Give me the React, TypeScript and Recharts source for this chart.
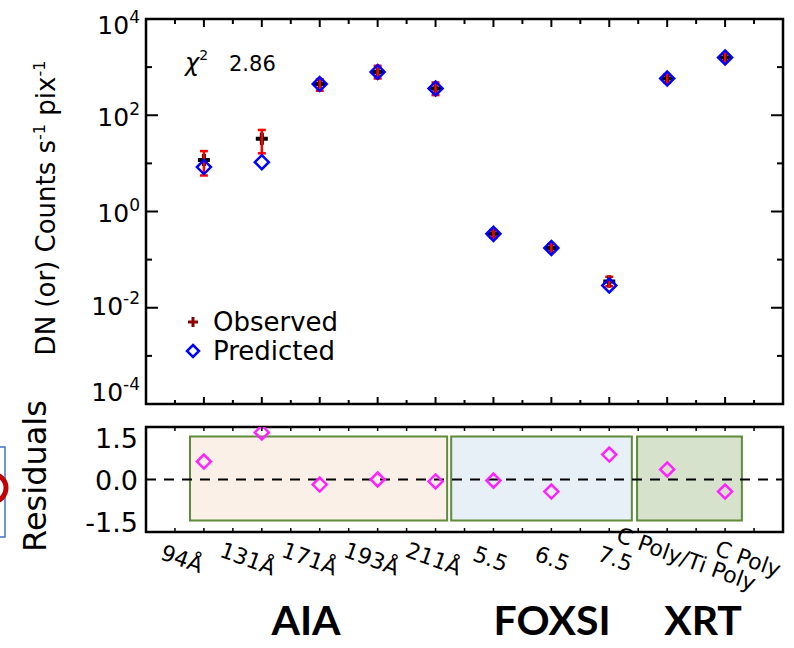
import React from 'react';
import { ScatterChart, Scatter, XAxis, YAxis, ErrorBar, ReferenceArea, ReferenceLine, Legend } from 'recharts';

// ---------- data ----------
const categories = ['94Å', '131Å', '171Å', '193Å', '211Å', '5.5', '6.5', '7.5', 'C Poly/Ti Poly', 'C Poly'];
const observed = [11.7, 32.5, 444, 795, 361, 0.343, 0.175, 0.035, 580, 1590];
const errLow = [6.1, 16.3, 121, 215, 99, 0.06, 0.03, 0.007, 100, 250];
const errHigh = [6.3, 17, 118, 272, 119, 0.07, 0.035, 0.009, 110, 280];
const predicted = [8.4, 10.6, 444, 795, 361, 0.343, 0.175, 0.029, 580, 1590];
const residuals = [0.64, 1.68, -0.18, 0.0, -0.07, -0.04, -0.43, 0.89, 0.36, -0.43];
const groupNames = ['AIA', 'FOXSI', 'XRT'];
const groupStart = [0.76, 5.27, 8.48];
const groupEnd = [5.2, 8.39, 10.29];
const groupLow = [-1.46, -1.46, -1.46];
const groupHigh = [1.54, 1.54, 1.54];
const chiSquare = 2.86;
const yTickExponents = [-4, -3, -2, -1, 0, 1, 2, 3, 4];
const residualTicks = [-1.5, 0, 1.5];

// ---------- layout / style ----------
const FONT = 'DejaVu Sans, Liberation Sans, Arial, sans-serif';
const PLOT_W = 637;
const TOP_H = 384;
const RES_H = 105;
const LABEL_DX = [-22, -14, -10, -6, -2, -3, 1, 6, 19, 23];
const EXP_DY: Record<number, number> = { 4: 6, 2: 2, 0: 1, [-2]: -2, [-4]: -12 };
const groupFills = ['#FAF0E8', '#E7EFF7', '#D6E2CC'];
const groupLabelX = [306, 552, 703];

const xTicks = Array.from({ length: 21 }, (_, k) => 0.5 + k * 0.5);
const yTicks = yTickExponents.map((e) => Math.pow(10, e));

const obsRows = categories.map((c, i) => ({ x: i + 1, y: observed[i], err: [errLow[i], errHigh[i]], name: c }));
const predRows = categories.map((c, i) => ({ x: i + 1, y: predicted[i], name: c }));
const resRows = categories.map((c, i) => ({ x: i + 1, y: residuals[i], name: c }));

const Cross = (p: any) => {
  const { cx, cy } = p;
  if (cx == null || cy == null) return <g />;
  return (
    <g>
      <path d={`M${cx - 6},${cy} H${cx + 6} M${cx},${cy - 6} V${cy + 6}`} stroke="#000" strokeWidth={4} fill="none" />
      <path d={`M${cx},${cy - 6} V${cy + 6}`} stroke="#FF0000" strokeWidth={2.5} fill="none" />
    </g>
  );
};
const Empty = () => <g />;
const makeDiamond = (color: string, r: number) => (p: any) => {
  const { cx, cy } = p;
  if (cx == null || cy == null) return <g />;
  return (
    <path
      d={`M${cx},${cy - r} L${cx + r},${cy} L${cx},${cy + r} L${cx - r},${cy} Z`}
      fill="none"
      stroke={color}
      strokeWidth={2.5}
    />
  );
};
const BlueDiamond = makeDiamond('#0000FF', 7);
const PinkDiamond = makeDiamond('#FF22FF', 7);

const LogYTick = (p: any) => {
  const { x, y, payload } = p;
  const e = Math.round(Math.log10(payload.value));
  const major = e % 2 === 0;
  const len = major ? 12 : 6;
  return (
    <g>
      <line x1={x} y1={y} x2={x + len} y2={y} stroke="#000" strokeWidth={2} />
      <line x1={x + PLOT_W} y1={y} x2={x + PLOT_W - len} y2={y} stroke="#000" strokeWidth={2} />
      {major && (
        <text x={x - 6} y={y + 9 + (EXP_DY[e] || 0)} textAnchor="end" fontFamily={FONT} fontSize={25} fill="#000">
          10
          <tspan dy={-11} fontSize={17}>{String(e)}</tspan>
        </text>
      )}
    </g>
  );
};

const TopXTick = (p: any) => {
  const { x, y, payload } = p;
  const major = Number.isInteger(payload.value);
  const len = major ? 7 : 4;
  return (
    <g>
      <line x1={x} y1={y} x2={x} y2={y - len} stroke="#000" strokeWidth={2} />
      <line x1={x} y1={y - TOP_H} x2={x} y2={y - TOP_H + len} stroke="#000" strokeWidth={2} />
    </g>
  );
};

const CatTick = (p: any) => {
  const { x, y, payload } = p;
  const v = payload.value;
  const isCat = Number.isInteger(v) && v >= 1 && v <= categories.length;
  return (
    <g>
      <line x1={x} y1={y} x2={x} y2={y - 4} stroke="#000" strokeWidth={1.5} />
      <line x1={x} y1={y - RES_H} x2={x} y2={y - RES_H + 4} stroke="#000" strokeWidth={1.5} />
      {isCat && (
        <text
          transform={`translate(${x + LABEL_DX[v - 1]},${y + 27}) rotate(20)`}
          textAnchor="middle"
          dominantBaseline="central"
          fontFamily={FONT}
          fontSize={22}
          fill="#000"
        >
          {categories[v - 1]}
        </text>
      )}
    </g>
  );
};

const ResYTick = (p: any) => {
  const { x, y, payload } = p;
  return (
    <text x={x - 8} y={y + 10} textAnchor="end" fontFamily={FONT} fontSize={27} fill="#000">
      {Number(payload.value).toFixed(1)}
    </text>
  );
};

const LegendContent = (props: any) => {
  const items = (props.payload || []).filter((it: any) => it.value === 'Observed' || it.value === 'Predicted');
  return (
    <div style={{ fontFamily: FONT, fontSize: 26, color: '#000' }}>
      {items.map((it: any) => (
        <div key={it.value} style={{ display: 'flex', alignItems: 'center', height: 29 }}>
          <svg width={20} height={20} style={{ marginRight: 10 }}>
            {it.value === 'Observed' ? (
              <path d="M5,10 H15 M10,5 V15" stroke="#8B0000" strokeWidth={3} fill="none" />
            ) : (
              <path d="M10,4 L16,10 L10,16 L4,10 Z" stroke="#0000FF" strokeWidth={2.5} fill="none" />
            )}
          </svg>
          <span>{it.value}</span>
        </div>
      ))}
    </div>
  );
};

export default function App() {
  return (
    <div style={{ position: 'absolute', left: 0, top: 0, width: 794, height: 648, background: '#fff', overflow: 'hidden' }}>
      <div style={{ position: 'absolute', left: 0, top: 0 }}>
        <ScatterChart width={794} height={410} margin={{ top: 19, right: 11, bottom: 5, left: 145 }}>
          <XAxis
            type="number"
            dataKey="x"
            domain={[0, 11]}
            ticks={xTicks}
            interval={0}
            allowDataOverflow
            tickLine={false}
            axisLine={false}
            tickSize={0}
            tickMargin={0}
            height={1}
            tick={(p: any) => <TopXTick {...p} />}
          />
          <YAxis
            type="number"
            dataKey="y"
            scale="log"
            domain={[1e-4, 1e4]}
            ticks={yTicks}
            interval={0}
            allowDataOverflow
            tickLine={false}
            axisLine={false}
            tickSize={0}
            tickMargin={0}
            width={1}
            tick={(p: any) => <LogYTick {...p} />}
          />
          <ReferenceArea x1={0} x2={11} y1={1e-4} y2={1e4} fill="none" stroke="#000" strokeWidth={2.5} ifOverflow="visible" />
          <Scatter name="err" data={obsRows} shape={Empty} legendType="none" isAnimationActive={false}>
            <ErrorBar dataKey="err" direction="y" stroke="#FF0000" strokeWidth={2.5} width={4} isAnimationActive={false} />
          </Scatter>
          <Scatter name="Observed" data={obsRows} shape={Cross} isAnimationActive={false} />
          <Scatter name="Predicted" data={predRows} shape={BlueDiamond} isAnimationActive={false} />
          <Legend
            layout="vertical"
            align="center"
            verticalAlign="middle"
            wrapperStyle={{ position: 'absolute', left: 183, top: 307, width: 200, height: 60 }}
            content={LegendContent}
          />
        </ScatterChart>
      </div>

      <div style={{ position: 'absolute', left: 0, top: 410 }}>
        <ScatterChart width={794} height={238} margin={{ top: 17, right: 11, bottom: 115, left: 145 }}>
          <XAxis
            type="number"
            dataKey="x"
            domain={[0, 11]}
            ticks={xTicks}
            interval={0}
            allowDataOverflow
            tickLine={false}
            axisLine={false}
            tickSize={0}
            tickMargin={0}
            height={1}
            tick={(p: any) => <CatTick {...p} />}
          />
          <YAxis
            type="number"
            dataKey="y"
            domain={[-1.875, 1.875]}
            ticks={residualTicks}
            interval={0}
            allowDataOverflow
            tickLine={false}
            axisLine={false}
            tickSize={0}
            tickMargin={0}
            width={1}
            tick={(p: any) => <ResYTick {...p} />}
          />
          {groupNames.map((g, i) => (
            <ReferenceArea
              key={g}
              x1={groupStart[i]}
              x2={groupEnd[i]}
              y1={groupLow[i]}
              y2={groupHigh[i]}
              fill={groupFills[i]}
              fillOpacity={1}
              stroke="#5E8C3A"
              strokeWidth={2}
            />
          ))}
          <ReferenceLine y={0} stroke="#000" strokeWidth={2} strokeDasharray="10 8" />
          <ReferenceArea x1={0} x2={11} y1={-1.875} y2={1.875} fill="none" stroke="#000" strokeWidth={2.5} ifOverflow="visible" />
          <Scatter name="Residuals" data={resRows} shape={PinkDiamond} isAnimationActive={false} />
        </ScatterChart>
      </div>

      <svg width={794} height={648} style={{ position: 'absolute', left: 0, top: 0, pointerEvents: 'none' }}>
        <rect x={-20} y={447} width={25} height={90} fill="none" stroke="#4472C4" strokeWidth={1.5} />
        <circle cx={-8} cy={488} r={14} fill="none" stroke="#C00000" strokeWidth={5} />
        <text transform="translate(55,208) rotate(-90)" textAnchor="middle" fontFamily={FONT} fontSize={26} fill="#000">
          DN (or) Counts s<tspan dy={-10} fontSize={16}>-1</tspan>
          <tspan dy={10}> pix</tspan>
          <tspan dy={-10} fontSize={16}>-1</tspan>
        </text>
        <text transform="translate(46,476) rotate(-90)" textAnchor="middle" fontFamily={FONT} fontSize={32} fill="#000">
          Residuals
        </text>
        <text x={185} y={71} fontFamily={FONT} fontSize={24} fontStyle="italic" fill="#000">
          χ<tspan dy={-11} fontSize={14} fontStyle="normal">2</tspan>
        </text>
        <text x={229} y={71} fontFamily={FONT} fontSize={21} fill="#000">
          {chiSquare.toFixed(2)}
        </text>
        {groupNames.map((g, i) => (
          <text key={g} x={groupLabelX[i]} y={635} textAnchor="middle" fontFamily="Lato, Open Sans, sans-serif" fontWeight={700} fontSize={41} fill="#000">
            {g}
          </text>
        ))}
      </svg>
    </div>
  );
}
